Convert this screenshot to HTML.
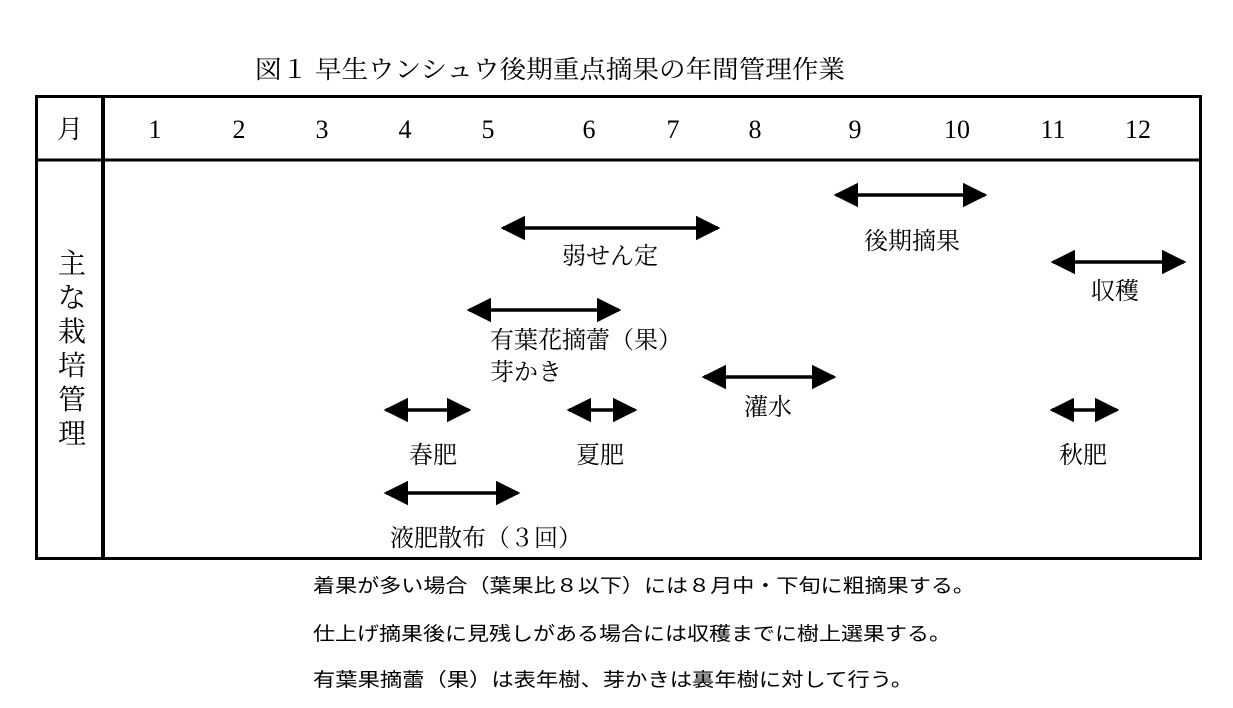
<!DOCTYPE html>
<html><head><meta charset="utf-8"><style>
html,body{margin:0;padding:0;background:#fff;}
svg{display:block;}
.s{font-family:"Noto Serif CJK JP","Noto Serif CJK SC",serif;fill:#000;}
.d{font-family:"Liberation Serif",serif;fill:#000;}
.g{font-family:"Noto Sans CJK JP",sans-serif;fill:#000;}
</style></head><body>
<svg width="1233" height="708" viewBox="0 0 1233 708" xmlns="http://www.w3.org/2000/svg">
<defs>
<marker id="h" viewBox="0 0 10 10" refX="9" refY="5" markerWidth="7" markerHeight="7" markerUnits="strokeWidth" orient="auto-start-reverse"><path d="M0,0 L10,5 L0,10 z" fill="#000"/></marker>
</defs>
<text class="s" x="255" y="78" font-size="25" textLength="590" lengthAdjust="spacingAndGlyphs">図１ 早生ウンシュウ後期重点摘果の年間管理作業</text>
<rect x="36.5" y="96.5" width="1164" height="462" fill="none" stroke="#000" stroke-width="3"/>
<line x1="103" y1="96" x2="103" y2="559" stroke="#000" stroke-width="4"/>
<line x1="36" y1="160" x2="1201" y2="160" stroke="#000" stroke-width="3"/>
<text class="s" x="70" y="138" font-size="26" text-anchor="middle">月</text>
<g class="d" font-size="26" text-anchor="middle">
<text x="155" y="138">1</text><text x="239" y="138">2</text><text x="322" y="138">3</text>
<text x="405" y="138">4</text><text x="488" y="138">5</text><text x="589" y="138">6</text>
<text x="673" y="138">7</text><text x="755" y="138">8</text><text x="855" y="138">9</text>
<text x="957" y="138">10</text><text x="1053" y="138">11</text><text x="1138" y="138">12</text>
</g>
<g class="s" font-size="28" text-anchor="middle">
<text x="72" y="273">主</text><text x="72" y="307">な</text><text x="72" y="341">栽</text>
<text x="72" y="375">培</text><text x="72" y="409">管</text><text x="72" y="443">理</text>
</g>
<g stroke="#000" stroke-width="3.5" marker-start="url(#h)" marker-end="url(#h)">
<line x1="503" y1="228" x2="718" y2="228"/>
<line x1="836" y1="195" x2="985" y2="195"/>
<line x1="1053" y1="262" x2="1184" y2="262"/>
<line x1="469" y1="310" x2="619" y2="310"/>
<line x1="704" y1="377" x2="834" y2="377"/>
<line x1="386" y1="410" x2="469" y2="410"/>
<line x1="569" y1="410" x2="635" y2="410"/>
<line x1="1052" y1="410" x2="1117" y2="410"/>
<line x1="386" y1="493" x2="518" y2="493"/>
</g>
<g class="s" font-size="24" text-anchor="middle">
<text x="610" y="264">弱せん定</text>
<text x="912" y="249">後期摘果</text>
<text x="1115" y="299">収穫</text>
<text x="768" y="415">灌水</text>
<text x="433" y="463">春肥</text>
<text x="600" y="463">夏肥</text>
<text x="1083" y="463">秋肥</text>
</g>
<g class="s" font-size="24">
<text x="490" y="348">有葉花摘蕾（果）</text>
<text x="490" y="380">芽かき</text>
<text x="390" y="546">液肥散布（３回）</text>
</g>
<g class="g" font-size="19">
<text x="313" y="592" textLength="662" lengthAdjust="spacingAndGlyphs">着果が多い場合（葉果比８以下）には８月中・下旬に粗摘果する。</text>
<text x="313" y="640" textLength="638" lengthAdjust="spacingAndGlyphs">仕上げ摘果後に見残しがある場合には収穫までに樹上選果する。</text>
<text x="313" y="686" textLength="600" lengthAdjust="spacingAndGlyphs">有葉果摘蕾（果）は表年樹、芽かきは裏年樹に対して行う。</text>
</g>
</svg>
</body></html>
